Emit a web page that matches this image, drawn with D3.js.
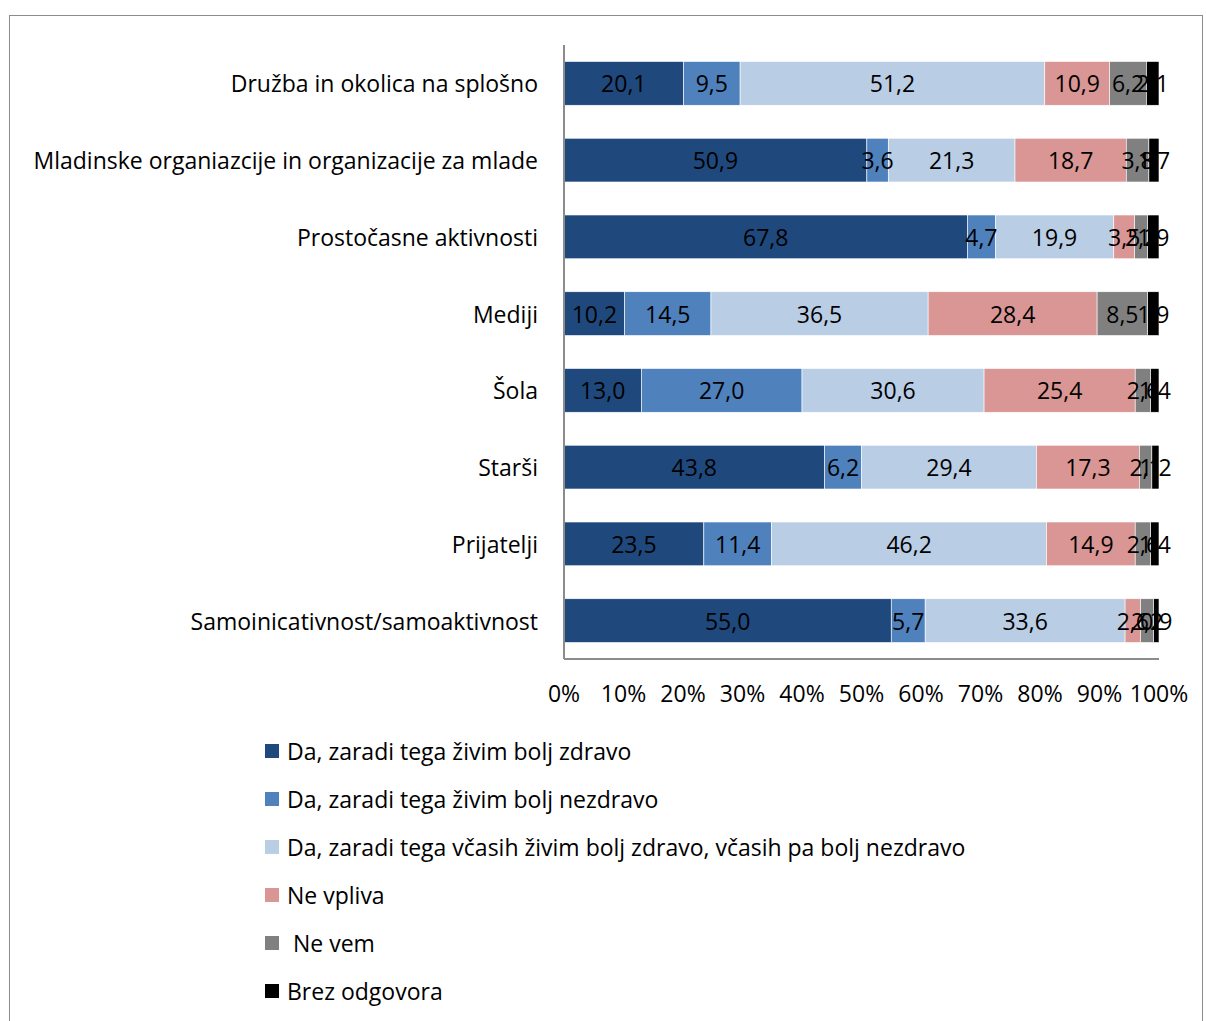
<!DOCTYPE html>
<html>
<head>
<meta charset="utf-8">
<script src="https://cdn.jsdelivr.net/npm/d3@7"></script>
<style>
  html, body { margin: 0; padding: 0; background: #fff; }
  svg { display: block; }
  text { font-family: "Open Sans", "Noto Sans", sans-serif; fill: #000; }
</style>
</head>
<body>
<svg id="chart" width="1206" height="1021"></svg>
<script>
// Categories (top to bottom)
const categories = [
  "Družba in okolica na splošno",
  "Mladinske organiazcije in organizacije za mlade",
  "Prostočasne aktivnosti",
  "Mediji",
  "Šola",
  "Starši",
  "Prijatelji",
  "Samoinicativnost/samoaktivnost"
];

// Series names (legend order)
const seriesNames = [
  "Da, zaradi tega živim bolj zdravo",
  "Da, zaradi tega živim bolj nezdravo",
  "Da, zaradi tega včasih živim bolj zdravo, včasih pa bolj nezdravo",
  "Ne vpliva",
  " Ne vem",
  "Brez odgovora"
];

// Percentages per series, one value per category
const boljZdravo      = [20.1, 50.9, 67.8, 10.2, 13.0, 43.8, 23.5, 55.0];
const boljNezdravo    = [9.5, 3.6, 4.7, 14.5, 27.0, 6.2, 11.4, 5.7];
const vcasih          = [51.2, 21.3, 19.9, 36.5, 30.6, 29.4, 46.2, 33.6];
const neVpliva        = [10.9, 18.7, 3.5, 28.4, 25.4, 17.3, 14.9, 2.6];
const neVem           = [6.2, 3.8, 2.2, 8.5, 2.6, 2.1, 2.6, 2.2];
const brezOdgovora    = [2.1, 1.7, 1.9, 1.9, 1.4, 1.2, 1.4, 0.9];

const tickValues = [0, 10, 20, 30, 40, 50, 60, 70, 80, 90, 100];

const seriesValues = [boljZdravo, boljNezdravo, vcasih, neVpliva, neVem, brezOdgovora];
const colors = ["#1F497D", "#4F81BD", "#B9CDE5", "#D99694", "#808080", "#000000"];
const fontSize = 23;

const svg = d3.select("#chart");

// outer frame
svg.append("rect")
  .attr("x", 9.5).attr("y", 15.5)
  .attr("width", 1193).attr("height", 1020)
  .attr("fill", "none").attr("stroke", "#8c8c8c").attr("stroke-width", 1);

const plot = { left: 564, right: 1159, top: 45, bottom: 659 };

// Build a table for d3.stack
const rows = categories.map((c, i) => {
  const r = { category: c };
  seriesNames.forEach((s, j) => { r[s] = seriesValues[j][i]; });
  return r;
});
const stacked = d3.stack().keys(seriesNames)(rows);

const x = d3.scaleLinear().domain([0, 100]).range([plot.left, plot.right]);
const y = d3.scaleBand().domain(categories).range([plot.top, plot.bottom]).paddingInner(0.43).paddingOuter(0.215);

// bars
const layers = svg.append("g").selectAll("g")
  .data(stacked).join("g")
  .attr("fill", (d, i) => colors[i]);

layers.selectAll("rect")
  .data(d => d.map(v => ({ v, cat: v.data.category })))
  .join("rect")
  .attr("x", d => x(d.v[0]))
  .attr("width", d => x(Math.min(100, d.v[1])) - x(d.v[0]))
  .attr("y", d => y(d.cat))
  .attr("height", y.bandwidth())
  .attr("stroke", "#fff")
  .attr("stroke-width", 0.6);

// data labels
const fmt = v => d3.format(".1f")(v).replace(".", ",");
const labels = svg.append("g");
stacked.forEach((layer, i) => {
  layer.forEach(v => {
    labels.append("text")
      .attr("x", x((v[0] + v[1]) / 2))
      .attr("y", y(v.data.category) + y.bandwidth() / 2)
      .attr("text-anchor", "middle")
      .attr("dominant-baseline", "central")
      .attr("font-size", fontSize)
      .text(fmt(v[1] - v[0]));
  });
});

// axes lines
svg.append("line")
  .attr("x1", plot.left).attr("x2", plot.left)
  .attr("y1", plot.top).attr("y2", plot.bottom)
  .attr("stroke", "#8c8c8c").attr("stroke-width", 2);
svg.append("line")
  .attr("x1", plot.left).attr("x2", plot.right)
  .attr("y1", plot.bottom).attr("y2", plot.bottom)
  .attr("stroke", "#8c8c8c").attr("stroke-width", 2);

// x tick labels
svg.append("g").selectAll("text")
  .data(tickValues).join("text")
  .attr("x", d => x(d))
  .attr("y", 693)
  .attr("text-anchor", "middle")
  .attr("dominant-baseline", "central")
  .attr("font-size", fontSize)
  .text(d => d + "%");

// category labels
svg.append("g").selectAll("text")
  .data(categories).join("text")
  .attr("x", 538)
  .attr("y", d => y(d) + y.bandwidth() / 2)
  .attr("text-anchor", "end")
  .attr("dominant-baseline", "central")
  .attr("font-size", fontSize)
  .text(d => d);

// legend
const legend = svg.append("g").selectAll("g")
  .data(seriesNames).join("g")
  .attr("transform", (d, i) => `translate(265, ${751 + i * 48})`);
legend.append("rect")
  .attr("x", 0).attr("y", -7)
  .attr("width", 14).attr("height", 14)
  .attr("fill", (d, i) => colors[i]);
legend.append("text")
  .attr("x", 22).attr("y", 0)
  .attr("dominant-baseline", "central")
  .attr("font-size", fontSize)
  .style("white-space", "pre")
  .text(d => d);
</script>
</body>
</html>
